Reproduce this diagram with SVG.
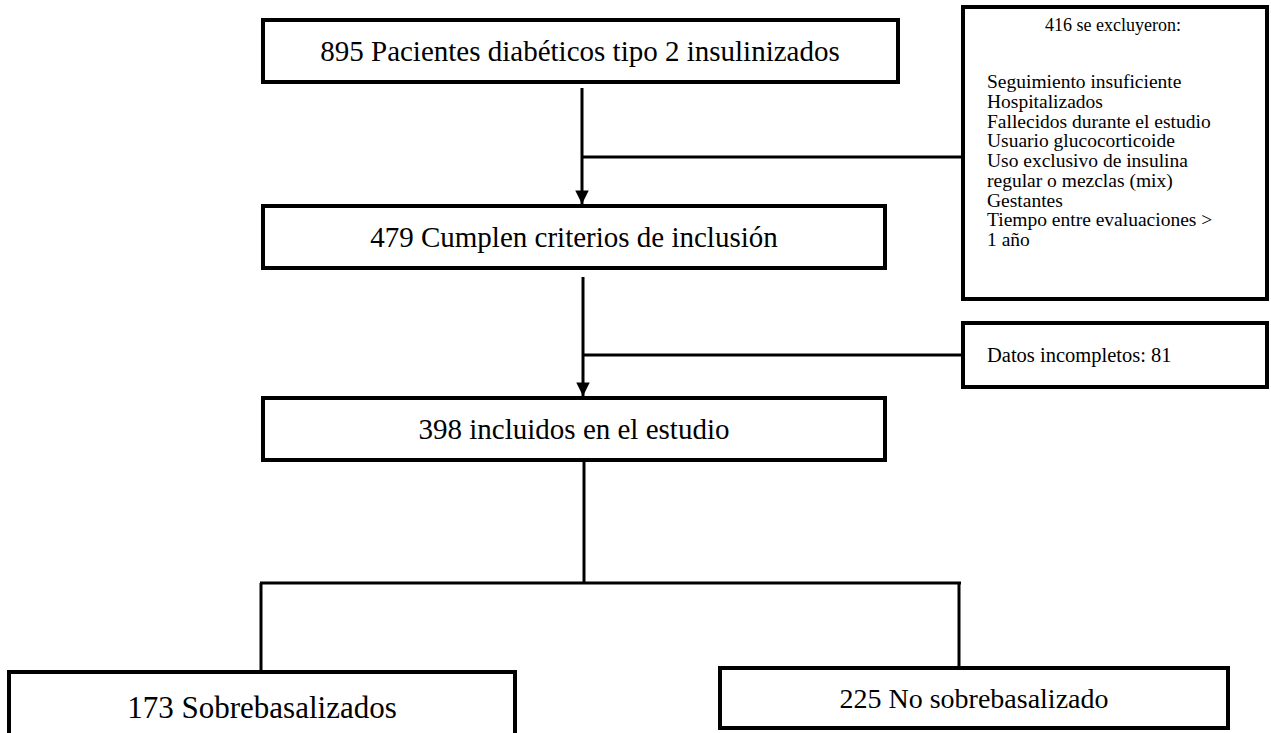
<svg xmlns="http://www.w3.org/2000/svg" width="1271" height="733" viewBox="0 0 1271 733">
<defs>
<style>
.box{fill:#fff;stroke:#000;stroke-width:4}
.ln{fill:none;stroke:#000;stroke-width:3}
text{font-family:"Liberation Serif","Times New Roman",serif;fill:#000}
.big{font-size:29px;text-anchor:middle}
.sm{font-size:19.5px}
</style>
<marker id="ah" viewBox="0 0 10 10" refX="10" refY="5" markerWidth="5" markerHeight="4.5" markerUnits="strokeWidth" orient="auto">
<path d="M0,0 L10,5 L0,10 z" fill="#000"/>
</marker>
</defs>
<rect width="1271" height="733" fill="#fff"/>
<g id="connectors">
<line class="ln" x1="582" y1="88" x2="582" y2="204" marker-end="url(#ah)"/>
<line class="ln" x1="582" y1="157" x2="963" y2="157"/>
<line class="ln" x1="583" y1="277" x2="583" y2="396" marker-end="url(#ah)"/>
<line class="ln" x1="583" y1="355" x2="963" y2="355"/>
<line class="ln" x1="584" y1="460" x2="584" y2="583"/>
<line class="ln" x1="260" y1="583" x2="961" y2="583"/>
<line class="ln" x1="261" y1="583" x2="261" y2="671"/>
<line class="ln" x1="959" y1="583" x2="959" y2="667"/>
</g>
<g id="n1">
<rect class="box" x="263" y="20" width="635" height="62"/>
<text class="big" x="580" y="61">895 Pacientes diabéticos tipo 2 insulinizados</text>
</g>
<g id="n2">
<rect class="box" x="263" y="206" width="622" height="62"/>
<text class="big" x="574" y="247">479 Cumplen criterios de inclusión</text>
</g>
<g id="n3">
<rect class="box" x="263" y="398" width="622" height="62"/>
<text class="big" x="574" y="439">398 incluidos en el estudio</text>
</g>
<g id="excl">
<rect class="box" x="963" y="7" width="304" height="292"/>
<text x="1113" y="31" font-size="18" text-anchor="middle">416 se excluyeron:</text>
<text class="sm" x="987" y="88">Seguimiento insuficiente</text>
<text class="sm" x="987" y="108">Hospitalizados</text>
<text class="sm" x="987" y="128">Fallecidos durante el estudio</text>
<text class="sm" x="987" y="147">Usuario glucocorticoide</text>
<text class="sm" x="987" y="167">Uso exclusivo de insulina</text>
<text class="sm" x="987" y="187">regular o mezclas (mix)</text>
<text class="sm" x="987" y="207">Gestantes</text>
<text class="sm" x="987" y="226">Tiempo entre evaluaciones &gt;</text>
<text class="sm" x="987" y="246">1 año</text>
</g>
<g id="datos">
<rect class="box" x="963" y="323" width="304" height="64"/>
<text x="987" y="362" font-size="20.5">Datos incompletos: 81</text>
</g>
<g id="n4">
<rect class="box" x="9" y="672" width="506" height="80" stroke-width="4.5"/>
<text x="262" y="718" font-size="31" text-anchor="middle">173 Sobrebasalizados</text>
</g>
<g id="n5">
<rect class="box" x="720" y="668" width="508" height="60" stroke-width="5"/>
<text x="974" y="708" font-size="28" text-anchor="middle">225 No sobrebasalizado</text>
</g>
</svg>
